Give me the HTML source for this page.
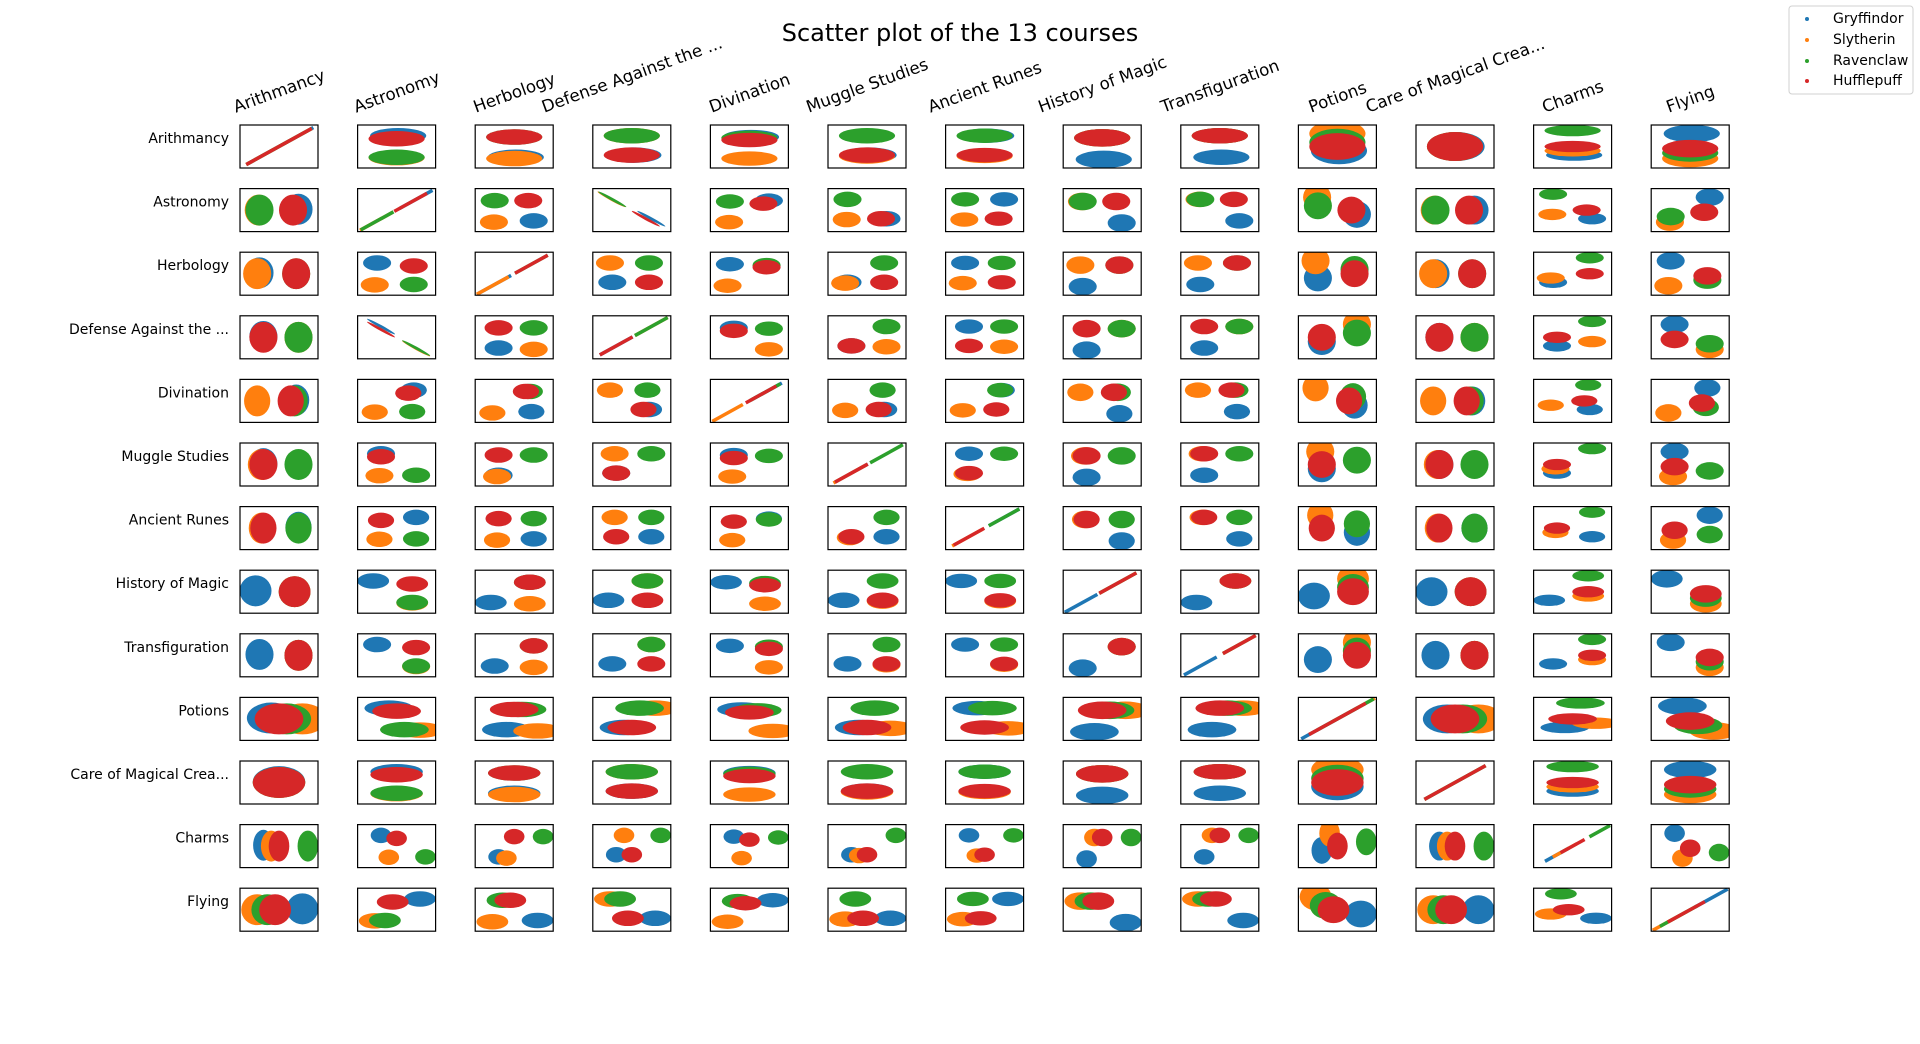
<!DOCTYPE html>
<html><head><meta charset="utf-8">
<style>
html,body{margin:0;padding:0;background:#fff;}
svg{display:block;font-family:"DejaVu Sans","Liberation Sans",sans-serif;}
</style></head>
<body>
<svg id="chart" width="1920" height="1044" viewBox="0 0 1920 1044" xmlns="http://www.w3.org/2000/svg">
<text x="960" y="33" text-anchor="middle" dominant-baseline="central" font-size="24" fill="#000">Scatter plot of the 13 courses</text>
<g id="cells"></g>
<g id="labels"></g>
<g>
<rect x="1789" y="6" width="124" height="88" rx="3" fill="#fff" stroke="#d0d0d0" stroke-width="1"/>
<circle cx="1807" cy="19" r="2" fill="#1f77b4"/>
<text x="1833" y="19" dominant-baseline="central" font-size="14">Gryffindor</text>
<circle cx="1807" cy="40" r="2" fill="#ff7f0e"/>
<text x="1833" y="40" dominant-baseline="central" font-size="14">Slytherin</text>
<circle cx="1807" cy="61" r="2" fill="#2ca02c"/>
<text x="1833" y="61" dominant-baseline="central" font-size="14">Ravenclaw</text>
<circle cx="1807" cy="81" r="2" fill="#d62728"/>
<text x="1833" y="81" dominant-baseline="central" font-size="14">Hufflepuff</text>
</g>
</svg>
<script>
var courses = ["Arithmancy","Astronomy","Herbology","Defense Against the ...","Divination","Muggle Studies","Ancient Runes","History of Magic","Transfiguration","Potions","Care of Magical Crea...","Charms","Flying"];
var houses = ["Gryffindor","Slytherin","Ravenclaw","Hufflepuff"];
var houseColors = ["#1f77b4","#ff7f0e","#2ca02c","#d62728"];
// normalized house means per course
var meanGryffindor = [0.52,0.75,0.25,0.30,0.72,0.30,0.75,0.20,0.25,0.40,0.50,0.30,0.80];
var meanSlytherin  = [0.50,0.24,0.22,0.75,0.22,0.28,0.28,0.70,0.75,0.80,0.50,0.40,0.22];
var meanRavenclaw  = [0.50,0.25,0.72,0.75,0.70,0.75,0.75,0.70,0.75,0.60,0.50,0.87,0.35];
var meanHufflepuff = [0.50,0.68,0.72,0.30,0.65,0.30,0.30,0.70,0.75,0.50,0.50,0.50,0.45];
// normalized spread per course
var spreadCourse = [0.15,0.075,0.075,0.075,0.07,0.075,0.07,0.085,0.075,0.13,0.14,0.055,0.085];
// strongly correlated course pairs [a, b, rho]
var corrPairs = [[1,3,-0.99]];

var means = [meanGryffindor, meanSlytherin, meanRavenclaw, meanHufflepuff];
var NS = "http://www.w3.org/2000/svg";
var X0 = 240, Y0 = 125, DX = 117.6, DY = 63.6, W = 78, H = 43, K = 2.4;
function xScale(col, v){ return X0 + col*DX + v*W; }
function yScale(row, v){ return Y0 + row*DY + H - v*H; }
function rhoOf(a,b){ for (var k=0;k<corrPairs.length;k++){ var p=corrPairs[k]; if((p[0]===a&&p[1]===b)||(p[0]===b&&p[1]===a)) return p[2]; } return 0; }
function clamp(v){ return Math.max(0.02, Math.min(0.98, v)); }

var cells = document.getElementById('cells');
var n = courses.length;
for (var r=0;r<n;r++){
  for (var c=0;c<n;c++){
    var g = document.createElementNS(NS,'g');
    
    
    var cp = document.createElementNS(NS,'clipPath');
    cp.setAttribute('id','cp'+r+'_'+c);
    var cr = document.createElementNS(NS,'rect');
    cr.setAttribute('x', X0+c*DX); cr.setAttribute('y', Y0+r*DY);
    cr.setAttribute('width', W); cr.setAttribute('height', H);
    cp.appendChild(cr); g.appendChild(cp);
    var inner = document.createElementNS(NS,'g');
    inner.setAttribute('clip-path','url(#cp'+r+'_'+c+')');
    
    
    g.appendChild(inner);
    var xc = r, yc = c;
    for (var h=0;h<4;h++){
      var mx = means[h][xc], my = means[h][yc];
      var sx = spreadCourse[xc], sy = spreadCourse[yc];
      if (r===c){
        var ln = document.createElementNS(NS,'line');
        
        
        var lo = clamp(mx-2.8*sx), hi = clamp(mx+2.8*sx);
        ln.setAttribute('x1', xScale(c,lo)); ln.setAttribute('y1', yScale(r,lo));
        ln.setAttribute('x2', xScale(c,hi)); ln.setAttribute('y2', yScale(r,hi));
        ln.setAttribute('stroke', houseColors[h]); ln.setAttribute('stroke-width','3.5');
        inner.appendChild(ln);
        continue;
      }
      var rho = rhoOf(xc,yc);
      var px = sx*W*K, py = sy*H*K;
      var el = document.createElementNS(NS,'ellipse');
      
      
      var cx = xScale(c,mx), cy = yScale(r,my);
      el.setAttribute('cx', cx); el.setAttribute('cy', cy);
      if (rho !== 0){
        var a = px*px, d = py*py, b = rho*px*py;
        var tr = (a+d)/2, det = Math.sqrt(((a-d)/2)*((a-d)/2)+b*b);
        var l1 = tr+det, l2 = Math.max(tr-det, 2.0);
        var ang = 0.5*Math.atan2(2*b, a-d)*180/Math.PI;
        el.setAttribute('rx', Math.sqrt(l1)); el.setAttribute('ry', Math.sqrt(l2));
        el.setAttribute('transform','rotate('+(-ang)+' '+cx+' '+cy+')');
      } else {
        el.setAttribute('rx', px); el.setAttribute('ry', py);
      }
      el.setAttribute('fill', houseColors[h]);
      inner.appendChild(el);
    }
    var fr = document.createElementNS(NS,'rect');
    
    
    fr.setAttribute('x', X0+c*DX); fr.setAttribute('y', Y0+r*DY);
    fr.setAttribute('width', W); fr.setAttribute('height', H);
    fr.setAttribute('fill','none'); fr.setAttribute('stroke','#000'); fr.setAttribute('stroke-width','1.2');
    g.appendChild(fr);
    cells.appendChild(g);
  }
}
var labels = document.getElementById('labels');
var rad = 20*Math.PI/180;
for (var i=0;i<n;i++){
  var rt = document.createElementNS(NS,'text');
  
  
  rt.setAttribute('x', 229); rt.setAttribute('y', Y0+i*DY+14);
  rt.setAttribute('text-anchor','end'); rt.setAttribute('dominant-baseline','central');
  rt.setAttribute('font-size','14');
  rt.textContent = courses[i];
  labels.appendChild(rt);
  var ct = document.createElementNS(NS,'text');
  
  
  ct.setAttribute('font-size','16.7');
  ct.setAttribute('text-anchor','middle'); ct.setAttribute('dominant-baseline','central');
  ct.textContent = courses[i];
  labels.appendChild(ct);
  var L = ct.getComputedTextLength ? ct.getComputedTextLength() : courses[i].length*9.5;
  var bh = L*Math.sin(rad) + 19*Math.cos(rad);
  var cxl = X0 + i*DX + W/2, cyl = 116 - bh/2;
  ct.setAttribute('x', cxl); ct.setAttribute('y', cyl);
  ct.setAttribute('transform','rotate(-20 '+cxl+' '+cyl+')');
}
</script>
</body></html>
